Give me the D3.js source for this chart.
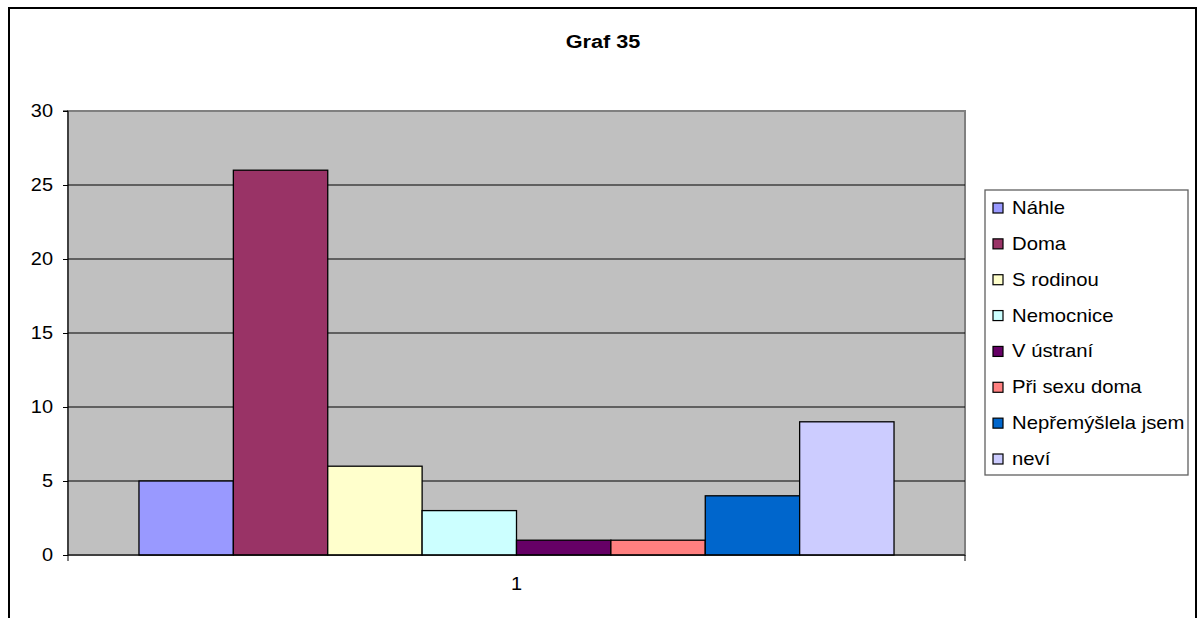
<!DOCTYPE html>
<html>
<head>
<meta charset="utf-8">
<script src="https://cdn.jsdelivr.net/npm/d3@7"></script>
<style>
  html, body { margin: 0; padding: 0; background: #fff; }
  svg { display: block; font-family: "Liberation Sans", Arial, sans-serif; }
</style>
</head>
<body>
<svg id="chart" width="1197" height="618"></svg>
<script>
// Chart data
const title = "Graf 35";
const categories = ["1"];
const seriesNames = ["Náhle", "Doma", "S rodinou", "Nemocnice", "V ústraní", "Při sexu doma", "Nepřemýšlela jsem", "neví"];
const seriesValues = [5, 26, 6, 3, 1, 1, 4, 9];
const seriesColors = ["#9999FF", "#993366", "#FFFFCC", "#CCFFFF", "#660066", "#FF8080", "#0066CC", "#CCCCFF"];
const yTicks = [0, 5, 10, 15, 20, 25, 30];

const svg = d3.select("#chart");
const SX = 1.14; // horizontal stretch of the text glyphs

// Outer chart frame
svg.append("rect")
  .attr("x", 9).attr("y", 8)
  .attr("width", 1187).attr("height", 640)
  .attr("fill", "#fff").attr("stroke", "#000").attr("stroke-width", 2);

function label(parent, x, y, txt, opts = {}) {
  const g = parent.append("g").attr("transform", `translate(${x},${y})`);
  g.append("text")
    .attr("transform", `scale(${SX},1)`)
    .attr("text-anchor", opts.anchor || "start")
    .attr("dominant-baseline", opts.baseline || "central")
    .attr("font-size", opts.size || 17.5)
    .attr("font-weight", opts.weight || "normal")
    .attr("fill", "#000")
    .text(txt);
  return g;
}

// Plot area
const plot = { left: 68, right: 965, top: 111, bottom: 555 };

const y = d3.scaleLinear().domain([0, 30]).range([plot.bottom, plot.top]);
const x0 = d3.scaleBand().domain(categories)
  .range([plot.left, plot.right]).paddingInner(0).paddingOuter(0.094);
const x1 = d3.scaleBand().domain(seriesNames).range([0, x0.bandwidth()]).padding(0);

svg.append("rect")
  .attr("x", plot.left).attr("y", plot.top)
  .attr("width", plot.right - plot.left).attr("height", plot.bottom - plot.top)
  .attr("fill", "#C0C0C0").attr("stroke", "#808080").attr("stroke-width", 2);

// Horizontal gridlines
svg.append("g").selectAll("line")
  .data(yTicks.filter(d => d > 0 && d < 30))
  .join("line")
  .attr("x1", plot.left).attr("x2", plot.right)
  .attr("y1", d => y(d)).attr("y2", d => y(d))
  .attr("stroke", "#000").attr("stroke-width", 1);

// Bars
const group = svg.append("g");
categories.forEach(cat => {
  group.selectAll("rect.bar")
    .data(seriesNames.map((s, i) => ({ s, v: seriesValues[i], c: seriesColors[i] })))
    .join("rect")
    .attr("class", "bar")
    .attr("x", d => x0(cat) + x1(d.s))
    .attr("y", d => y(d.v))
    .attr("width", x1.bandwidth())
    .attr("height", d => y(0) - y(d.v))
    .attr("fill", d => d.c)
    .attr("stroke", "#000").attr("stroke-width", 1.3);
});

// Y axis
const yAxis = svg.append("g").attr("transform", `translate(${plot.left},0)`)
  .call(d3.axisLeft(y).tickValues(yTicks).tickSize(5).tickFormat(""));
yAxis.select(".domain").attr("stroke", "#000").attr("d", `M-5,${plot.top}H0V${plot.bottom}`);
yAxis.selectAll(".tick line").attr("stroke", "#000");
yTicks.forEach(t => label(svg, 53, y(t), String(t), { anchor: "end" }));

// X axis
const xAxis = svg.append("g").attr("transform", `translate(0,${plot.bottom})`);
xAxis.append("line").attr("x1", plot.left).attr("x2", plot.right)
  .attr("y1", 0).attr("y2", 0).attr("stroke", "#000").attr("stroke-width", 1.2);
[plot.left, plot.right].forEach(px => {
  xAxis.append("line").attr("x1", px).attr("x2", px)
    .attr("y1", 0).attr("y2", 6).attr("stroke", "#000");
});
categories.forEach(cat => label(svg, x0(cat) + x0.bandwidth() / 2, 584, cat, { anchor: "middle" }));

// Title
label(svg, 603, 41, title, { anchor: "middle", weight: "bold", size: 19 });

// Legend
const legend = svg.append("g");
legend.append("rect")
  .attr("x", 985).attr("y", 190).attr("width", 203).attr("height", 285)
  .attr("fill", "#fff").attr("stroke", "#606060").attr("stroke-width", 1.3);
const rowY = d3.scalePoint().domain(seriesNames).range([208, 459]);
seriesNames.forEach((s, i) => {
  legend.append("rect")
    .attr("x", 993).attr("y", rowY(s) - 5)
    .attr("width", 10).attr("height", 10)
    .attr("fill", seriesColors[i]).attr("stroke", "#000").attr("stroke-width", 1.2);
  label(legend, 1012, rowY(s), s, { size: 17.8 });
});
</script>
</body>
</html>
